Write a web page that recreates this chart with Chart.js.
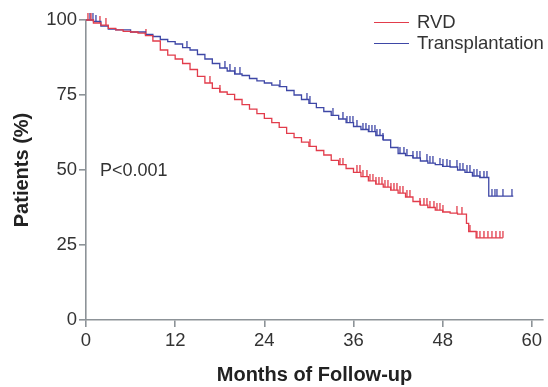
<!DOCTYPE html>
<html>
<head>
<meta charset="utf-8">
<script src="https://cdn.jsdelivr.net/npm/chart.js@4.4.1/dist/chart.umd.min.js"></script>
<style>
  html, body { margin: 0; padding: 0; background: #fff; }
  #wrap { position: relative; width: 548px; height: 387px; font-family: "Liberation Sans", Arial, sans-serif; color: #333; }
  #km { display: block; }
  .note { position: absolute; font-size: 18px; line-height: 20px; white-space: nowrap; }
  .leg { position: absolute; left: 374px; font-size: 18.5px; line-height: 20px; white-space: nowrap; }
  .leg i { display: inline-block; width: 35px; height: 0; border-top: 1.4px solid; vertical-align: middle; margin-right: 8px; position: relative; top: -1px; }
</style>
</head>
<body>
<div id="wrap">
  <canvas id="km" width="548" height="387"></canvas>
  <div class="leg" style="top:12px;"><i style="border-color:#e23c4b"></i>RVD</div>
  <div class="leg" style="top:33px;"><i style="border-color:#3e47a6"></i>Transplantation</div>
  <div class="note" style="left:100px; top:160px;">P&lt;0.001</div>
</div>
<script>
// Kaplan-Meier curves: months -> % patients
const RED = '#e23c4b';
const BLUE = '#3e47a6';
const AXIS = '#8d9398';

const rvdMonths = [0, 1, 2, 3, 4, 5, 6, 7, 8, 9, 10, 11, 12, 13, 14, 15, 16, 17, 18, 19, 20, 21, 22, 23, 24, 25, 26, 27, 28, 29, 30, 31, 32, 33, 34, 35, 36, 37, 38, 39, 40, 41, 42, 43, 44, 45, 46, 47, 48, 49, 50, 51.2, 51.5, 52.5, 56.1];
const rvdSurv = [100, 99, 98.3, 97.2, 96.7, 96.2, 96, 95.6, 94.8, 93, 90, 88.3, 87, 85.5, 83.5, 81.2, 79, 77.2, 76, 75.2, 73.5, 71.8, 70.3, 68.8, 67.2, 65.8, 64.2, 62.2, 60.8, 59.3, 57.9, 56.5, 55, 53.2, 51.8, 50.5, 49.2, 47.8, 46.4, 45.3, 44.3, 43.3, 42.3, 41, 39.5, 38.3, 37.5, 36.6, 36, 35.6, 35.3, 32.2, 29.5, 27.4, 27.4];

const txMonths = [0, 1, 2, 3, 4, 6, 8, 9, 10, 11, 12, 13, 14, 15, 16, 17, 18, 19, 20, 21, 22, 23, 24, 25, 26, 27, 28, 29, 30, 31, 32, 33, 34, 35, 36, 37, 38, 39, 40, 41, 42, 43, 44, 45, 46, 47, 48, 49, 50, 51, 52, 53, 54.2, 57.5];
const txSurv = [100, 99.5, 98, 97, 96.7, 96, 95.2, 94.5, 93.5, 92.8, 92, 90.8, 90, 88.5, 87, 85.5, 84, 83, 82, 81.5, 80.5, 79.7, 79, 78.3, 77.8, 76.5, 75, 73.5, 72.2, 70.8, 69.5, 68.2, 67, 65.8, 64.5, 63.5, 62.8, 61.5, 60, 57.5, 55.5, 54.8, 54, 53, 52.3, 51.8, 51.2, 51, 50, 49.2, 48, 47.5, 41.3, 41.3];

// censored observations (months)
const rvdCensor = [0.3, 0.7, 1.9, 2.7, 8.1, 16.7, 18.0, 30.1, 34.2, 34.6, 36.5, 36.9, 37.3, 37.8, 38.2, 38.6, 39.0, 39.4, 39.8, 40.2, 40.6, 41.0, 41.5, 41.9, 42.3, 42.7, 43.2, 43.6, 45.0, 45.5, 45.9, 46.3, 46.8, 47.2, 47.6, 48.0, 49.9, 50.6, 51.7, 52.6, 53.0, 53.6, 54.1, 54.6, 55.2, 55.7, 56.1];
const txCensor = [0.5, 0.9, 1.35, 13.6, 18.7, 19.4, 20.1, 20.7, 26.1, 29.7, 30.1, 33.2, 34.6, 35.1, 35.5, 35.9, 36.5, 37.3, 37.7, 38.1, 38.5, 38.9, 39.2, 39.6, 40.0, 42.3, 42.8, 43.2, 44.0, 44.5, 44.9, 45.9, 46.3, 46.7, 47.6, 48.0, 48.6, 49.0, 49.9, 50.3, 50.7, 51.3, 51.7, 52.2, 52.6, 53.0, 53.6, 54.0, 54.6, 55.0, 55.3, 56.1, 57.3];

const xTickValues = [0, 12, 24, 36, 48, 60];
const yTickValues = [0, 25, 50, 75, 100];

const curve = (months, surv) => months.map((m, i) => ({ x: m, y: surv[i] }));

// survival at time t = last step at or before t
function survAt(months, surv, t) {
  let v = surv[0];
  for (let i = 0; i < months.length; i++) if (months[i] <= t) v = surv[i];
  return v;
}
const censorPts = (cens, months, surv) => cens.map((t) => ({ x: t, y: survAt(months, surv, t) }));

// small upward tick used as point style for censor marks
function tickMark(color) {
  const c = document.createElement('canvas');
  c.width = 2; c.height = 14;
  const g = c.getContext('2d');
  g.fillStyle = color;
  g.fillRect(0.3, 0, 1.3, 7);
  return c;
}

const font = { family: '"Liberation Sans", Arial, sans-serif', size: 18.5 };
const titleFont = { family: '"Liberation Sans", Arial, sans-serif', size: 20, weight: 'bold' };

new Chart(document.getElementById('km'), {
  type: 'line',
  data: {
    datasets: [
      { label: 'RVD', data: curve(rvdMonths, rvdSurv), borderColor: RED, borderWidth: 1.3, stepped: true, pointRadius: 0, clip: false },
      { label: 'Transplantation', data: curve(txMonths, txSurv), borderColor: BLUE, borderWidth: 1.3, stepped: true, pointRadius: 0, clip: false },
      { label: 'RVD censored', data: censorPts(rvdCensor, rvdMonths, rvdSurv), showLine: false, pointStyle: tickMark(RED), pointRadius: 3, clip: false },
      { label: 'Transplantation censored', data: censorPts(txCensor, txMonths, txSurv), showLine: false, pointStyle: tickMark(BLUE), pointRadius: 3, clip: false },
    ],
  },
  options: {
    responsive: false,
    animation: false,
    events: [],
    layout: { padding: { top: 20, right: 1, left: 0, bottom: 0 } },
    plugins: { legend: { display: false }, tooltip: { enabled: false } },
    scales: {
      x: {
        type: 'linear', min: 0, max: 61.5,
        afterBuildTicks: (s) => { s.ticks = xTickValues.map((v) => ({ value: v })); },
        afterFit: (s) => { s.height = 67; },
        border: { color: AXIS, width: 1.6 },
        grid: { drawOnChartArea: false, color: AXIS, lineWidth: 1.6, tickLength: 7 },
        ticks: { font, color: '#333', padding: 3, maxRotation: 0 },
        title: { display: true, text: 'Months of Follow-up', font: titleFont, color: '#222', padding: { top: 0, bottom: 0 } },
      },
      y: {
        min: 0, max: 100,
        afterBuildTicks: (s) => { s.ticks = yTickValues.map((v) => ({ value: v })); },
        afterFit: (s) => { s.width = 86; },
        border: { color: AXIS, width: 1.6 },
        grid: { drawOnChartArea: false, color: AXIS, lineWidth: 1.6, tickLength: 7 },
        ticks: { font, color: '#333', padding: 2 },
        title: { display: true, text: 'Patients (%)', font: titleFont, color: '#222', padding: { top: 10, bottom: 0 } },
      },
    },
  },
});
</script>
</body>
</html>
